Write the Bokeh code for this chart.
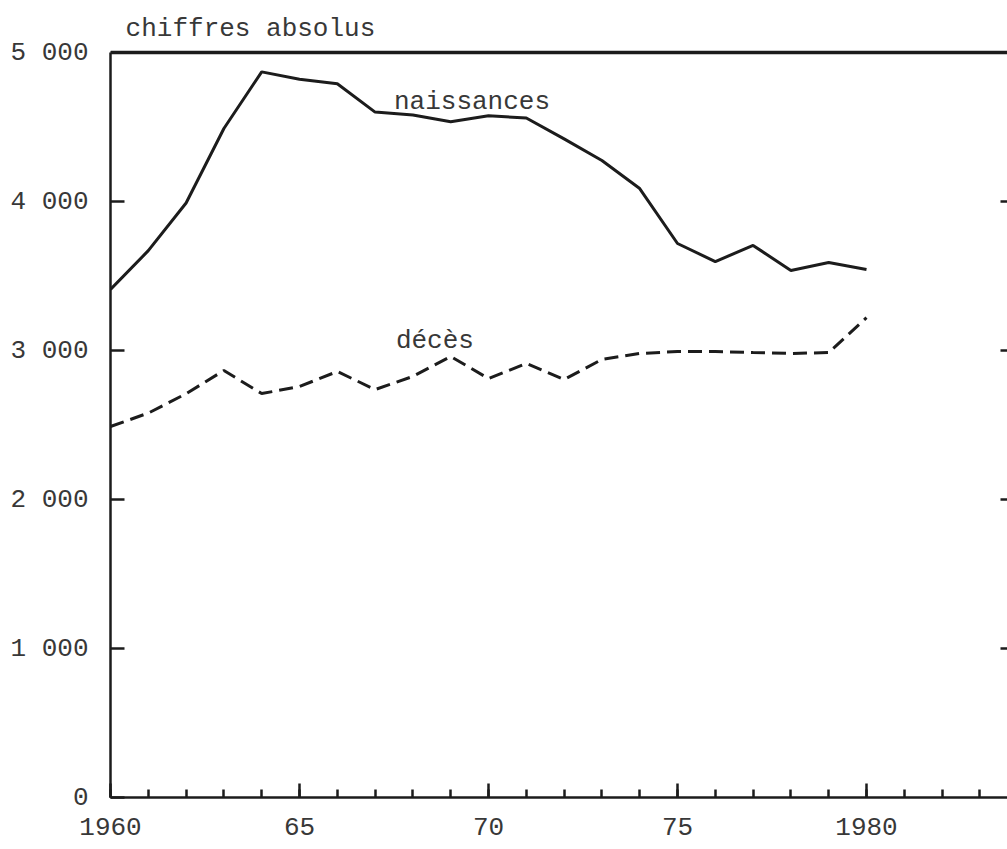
from bokeh.plotting import figure
from bokeh.models import FixedTicker, LinearAxis, Span, Label, ColumnDataSource, Range1d
from bokeh.embed import file_html
from bokeh.resources import INLINE

years = list(range(1960, 1981))
naissances = [3410, 3670, 3990, 4490, 4870, 4820, 4790, 4600, 4580, 4535, 4575,
              4560, 4420, 4275, 4087, 3718, 3597, 3705, 3537, 3591, 3544]
deces = [2490, 2580, 2710, 2866, 2711, 2758, 2859, 2738, 2826, 2960, 2812,
         2913, 2805, 2940, 2980, 2993, 2993, 2986, 2980, 2986, 3221]

x_major = [1960, 1965, 1970, 1975, 1980]
x_labels = {1960: "1960", 1965: "65", 1970: "70", 1975: "75", 1980: "1980"}
x_minor = list(range(1960, 1984))
y_major = [0, 1000, 2000, 3000, 4000, 5000]
y_labels = {0: "0", 1000: "1 000", 2000: "2 000", 3000: "3 000", 4000: "4 000", 5000: "5 000"}
y_right = [1000, 2000, 3000, 4000]
y_top = 5000

title_text = "chiffres absolus"
label_naiss = "naissances"
label_deces = "décès"

FONT = "Liberation Mono"
INK = "#1c1c1c"
TXT = "#383838"

src = ColumnDataSource(dict(year=years, naiss=naissances, deces=deces))

# the frame reaches the top of the canvas so that the heading above the 5 000 line is not clipped
p = figure(width=1007, height=849, output_backend="svg", toolbar_location=None,
           x_range=Range1d(1960, 1983.73), y_range=Range1d(0, 5349),
           min_border_left=110, min_border_top=0, min_border_right=0, min_border_bottom=52,
           x_axis_type=None, y_axis_type=None)
p.outline_line_color = None
p.grid.visible = False
p.background_fill_color = "white"
p.border_fill_color = "white"

xaxis = LinearAxis(ticker=FixedTicker(ticks=x_major, minor_ticks=x_minor))
xaxis.major_label_overrides = x_labels
xaxis.axis_line_width = 2.5
xaxis.axis_line_color = INK
xaxis.major_tick_in = 14
xaxis.major_tick_out = 0
xaxis.major_tick_line_width = 2.5
xaxis.major_tick_line_color = INK
xaxis.minor_tick_in = 8
xaxis.minor_tick_out = 0
xaxis.minor_tick_line_width = 2.5
xaxis.minor_tick_line_color = INK
xaxis.major_label_text_font = FONT
xaxis.major_label_text_font_size = "26px"
xaxis.major_label_text_color = TXT
xaxis.major_label_standoff = 20
p.add_layout(xaxis, "below")

yaxis = LinearAxis(ticker=FixedTicker(ticks=y_major), bounds=(0, y_top))
yaxis.major_label_overrides = y_labels
yaxis.axis_line_width = 2.5
yaxis.axis_line_color = INK
yaxis.major_tick_in = 14
yaxis.major_tick_out = 0
yaxis.major_tick_line_width = 2.5
yaxis.major_tick_line_color = INK
yaxis.minor_tick_line_color = None
yaxis.major_label_text_font = FONT
yaxis.major_label_text_font_size = "26px"
yaxis.major_label_text_color = TXT
yaxis.major_label_standoff = 22
p.add_layout(yaxis, "left")

# right-hand ticks only (no labels): drawn as minor ticks
raxis = LinearAxis(ticker=FixedTicker(ticks=[], minor_ticks=y_right))
raxis.axis_line_color = None
raxis.major_tick_line_color = None
raxis.major_tick_in = 0
raxis.major_tick_out = 0
raxis.minor_tick_in = 7
raxis.minor_tick_out = 0
raxis.minor_tick_line_width = 2.5
raxis.minor_tick_line_color = INK
raxis.major_label_standoff = 0
p.add_layout(raxis, "right")

p.add_layout(Span(location=y_top, dimension="width", line_color=INK, line_width=3.5))

p.line("year", "naiss", source=src, line_color=INK, line_width=3)
p.line("year", "deces", source=src, line_color=INK, line_width=3, line_dash="14 7")

p.add_layout(Label(x=1960.4, y=5161, text=title_text, text_font=FONT,
                   text_font_size="26px", text_color=TXT, text_baseline="alphabetic"))
p.add_layout(Label(x=1967.5, y=4665, text=label_naiss, text_font=FONT,
                   text_font_size="26px", text_color=TXT, text_baseline="alphabetic"))
p.add_layout(Label(x=1967.55, y=3062, text=label_deces, text_font=FONT,
                   text_font_size="26px", text_color=TXT, text_baseline="alphabetic"))

open("out.html", "w").write(file_html(p, INLINE))
